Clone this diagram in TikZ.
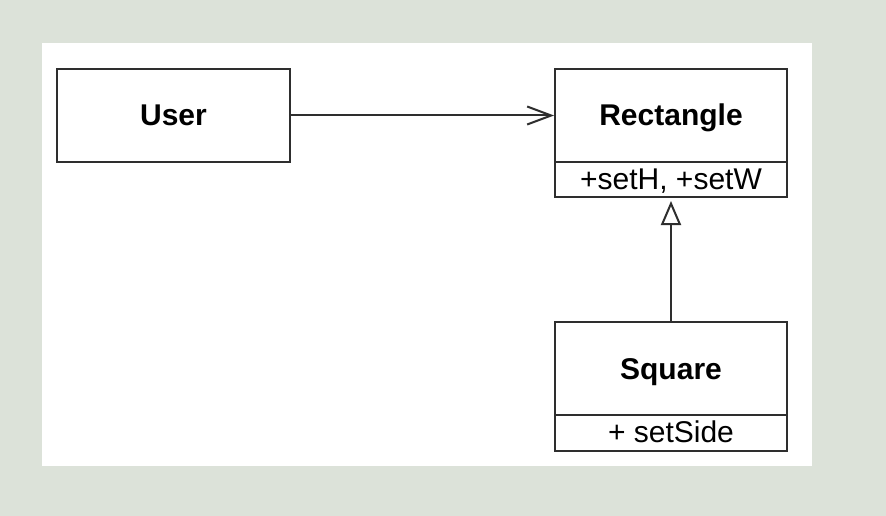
\documentclass[tikz,border=0pt]{standalone}
\usepackage{fontspec}
\setmainfont{Liberation Sans}
\usetikzlibrary{arrows.meta}
\definecolor{bgc}{HTML}{DCE2D9}
\definecolor{ink}{HTML}{2E2E2E}
\tikzset{
  box/.style={draw=ink, line width=2pt, fill=white, minimum width=232pt, inner sep=0pt, font=\fontsize{30}{34}\selectfont},
  namebox/.style={box, minimum height=93pt, text height=24pt, text depth=3pt, font=\fontsize{30}{34}\selectfont\bfseries},
  opsbox/.style={box, minimum height=35pt, text height=22pt, text depth=3pt},
  conn/.style={draw=ink, line width=2pt}
}
\begin{document}
\begin{tikzpicture}[x=1pt,y=-1pt]
\useasboundingbox (0,0) rectangle (886,516);
\fill[bgc] (0,0) rectangle (886,516);
\fill[white] (42,43) rectangle (812,466);
\node[namebox, minimum width=233pt] (user) at (173.5,115.5) {User};
\node[namebox] (rname) at (671,115.5) {Rectangle};
\node[opsbox] (rops) at (671,179.5) {+setH, +setW};
\node[namebox] (sname) at (671,368.5) {Square};
\node[opsbox, minimum height=36pt] (sops) at (671,432.5) {+ setSide};
\draw[conn, -{Straight Barb[length=24pt,width=18pt,line width=2pt]}] (user.east) -- (rname.west);
\draw[conn, -{Triangle[open,length=24pt,width=20pt,line width=2pt]}] (sname.north) -- ([yshift=-3pt]rops.south);
\end{tikzpicture}
\end{document}
